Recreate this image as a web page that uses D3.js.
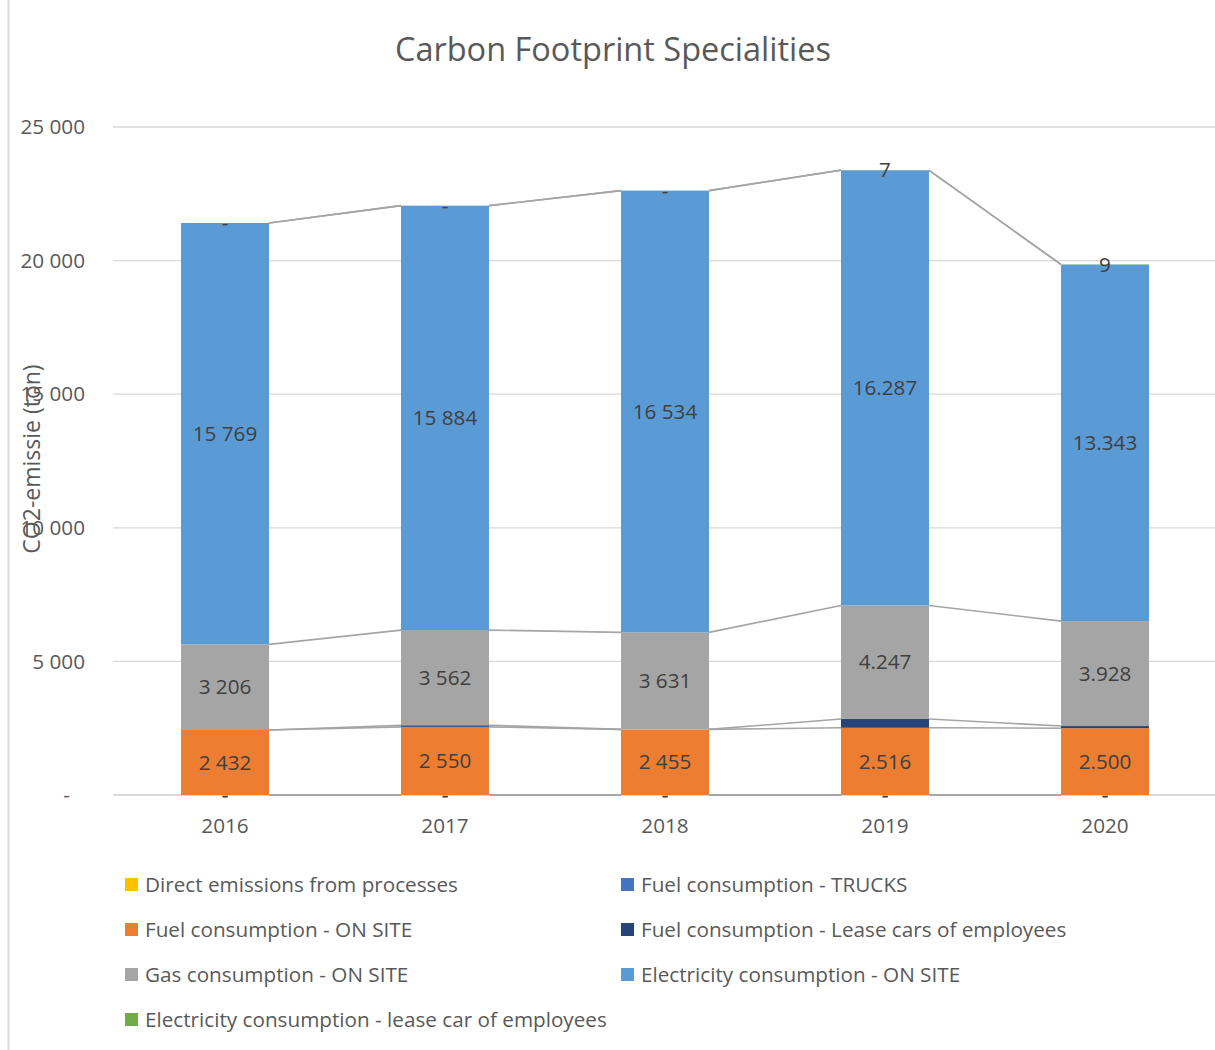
<!DOCTYPE html>
<html>
<head>
<meta charset="utf-8">
<script src="https://cdn.jsdelivr.net/npm/d3@7"></script>
<style>
	body { margin: 0; background: #fff; }
	svg text { font-family: "Open Sans", sans-serif; }
</style>
</head>
<body>
<svg id="chart"></svg>
<script>
const width = 1215, height = 1050;

// chart data
const years = ['2016', '2017', '2018', '2019', '2020'];
const seriesNames = [
	'Direct emissions from processes',
	'Fuel consumption - TRUCKS',
	'Fuel consumption - ON SITE',
	'Fuel consumption - Lease cars of employees',
	'Gas consumption - ON SITE',
	'Electricity consumption - ON SITE',
	'Electricity consumption - lease car of employees'
];
const directEmissions = [0, 0, 0, 0, 0];
const fuelTrucks = [0, 0, 0, 0, 0];
const fuelOnSite = [2432, 2550, 2455, 2516, 2500];
const fuelLeaseCars = [0, 60, 0, 330, 80];
const gasOnSite = [3206, 3562, 3631, 4247, 3928];
const elecOnSite = [15769, 15884, 16534, 16287, 13343];
const elecLeaseCar = [0, 0, 0, 7, 9];
// thousands separator used in the labels of each year
const labelSeparators = [' ', ' ', ' ', '.', '.'];
const yTicks = [0, 5000, 10000, 15000, 20000, 25000];

const seriesValues = [directEmissions, fuelTrucks, fuelOnSite, fuelLeaseCars, gasOnSite, elecOnSite, elecLeaseCar];
const seriesColors = ['#ffc000', '#4472c4', '#ed7d31', '#264478', '#a5a5a5', '#5b9bd5', '#70ad47'];
const seriesLabelled = [true, true, true, false, true, true, true];

const config = {
	text: '#595959',
	label: '#404040',
	grid: '#d9d9d9',
	seriesLine: '#a5a5a5',
	fontSize: '20.7px'
};

function formatLabel(value, i) {
	if (value === 0) return '-';
	return String(value).replace(/\B(?=(\d{3})+(?!\d))/g, labelSeparators[i]);
}

const svg = d3.select('#chart').attr('width', width).attr('height', height);

// chart border
svg.append('line')
	.attr('x1', 8.5).attr('x2', 8.5).attr('y1', 0).attr('y2', height)
	.attr('stroke', config.grid).attr('stroke-width', 2);

const x = d3.scaleBand().domain(years).range([115, 1215]).paddingInner(0.6).paddingOuter(0.3);
const y = d3.scaleLinear().domain([0, 25000]).range([795, 127]);

// gridlines
svg.append('g')
	.selectAll('line')
	.data(yTicks)
	.enter()
	.append('line')
	.attr('x1', 113).attr('x2', 1215)
	.attr('y1', d => y(d)).attr('y2', d => y(d))
	.attr('stroke', config.grid)
	.attr('stroke-width', d => d === 0 ? 2 : 1.3);

// y axis labels
const yAxis = d3.axisLeft(y)
	.tickValues(yTicks)
	.tickSize(0)
	.tickPadding(0)
	.tickFormat(d => d === 0 ? '-' : formatLabel(d, 0));
const yAxisGroup = svg.append('g').attr('transform', 'translate(85, 0)').call(yAxis);
yAxisGroup.select('.domain').remove();
yAxisGroup.selectAll('.tick text')
	.attr('fill', config.text)
	.style('font-size', config.fontSize);
yAxisGroup.selectAll('.tick').filter(d => d === 0).select('text').attr('dx', -15);

// x axis labels
const xAxis = d3.axisBottom(x).tickSize(0).tickPadding(23);
const xAxisGroup = svg.append('g').attr('transform', 'translate(0, 795)').call(xAxis);
xAxisGroup.select('.domain').remove();
xAxisGroup.selectAll('.tick text')
	.attr('fill', config.text)
	.style('font-size', config.fontSize);

// stacked data
const stackRows = years.map((year, i) => {
	const row = { year };
	seriesNames.forEach((name, s) => row[name] = seriesValues[s][i]);
	return row;
});
const stacked = d3.stack().keys(seriesNames)(stackRows);

const barsGroup = svg.append('g');
stacked.forEach((layer, s) => {
	barsGroup.append('g')
		.selectAll('rect')
		.data(layer)
		.enter()
		.append('rect')
		.attr('x', d => x(d.data.year))
		.attr('y', d => y(d[1]))
		.attr('width', x.bandwidth())
		.attr('height', d => y(d[0]) - y(d[1]))
		.attr('fill', seriesColors[s]);
});

// series lines between the bars
const linesGroup = svg.append('g');
stacked.forEach(layer => {
	linesGroup.selectAll(null)
		.data(layer.slice(0, -1))
		.enter()
		.append('line')
		.attr('x1', d => x(d.data.year) + x.bandwidth())
		.attr('y1', d => y(d[1]))
		.attr('x2', (d, i) => x(layer[i + 1].data.year))
		.attr('y2', (d, i) => y(layer[i + 1][1]))
		.attr('stroke', config.seriesLine)
		.attr('stroke-width', 1.6);
});

// data labels
const labelsGroup = svg.append('g');
stacked.forEach((layer, s) => {
	if (!seriesLabelled[s]) return;
	labelsGroup.append('g')
		.selectAll('text')
		.data(layer)
		.enter()
		.append('text')
		.attr('x', d => x(d.data.year) + x.bandwidth() / 2)
		.attr('y', d => y((d[0] + d[1]) / 2))
		.attr('dy', '0.35em')
		.attr('text-anchor', 'middle')
		.attr('fill', config.label)
		.style('font-size', config.fontSize)
		.text((d, i) => formatLabel(d[1] - d[0], i));
});

// title
svg.append('text')
	.attr('x', 613).attr('y', 61)
	.attr('text-anchor', 'middle')
	.attr('fill', config.text)
	.style('font-size', '32.5px')
	.text('Carbon Footprint Specialities');

// y axis title
svg.append('text')
	.attr('transform', 'translate(40, 459) rotate(-90)')
	.attr('text-anchor', 'middle')
	.attr('fill', config.text)
	.style('font-size', '23px')
	.text('CO2-emissie (ton)');

// legend
const legend = svg.append('g')
	.selectAll('g')
	.data(seriesNames)
	.enter()
	.append('g')
	.attr('transform', (d, i) => `translate(${i % 2 === 0 ? 125 : 621}, ${885 + Math.floor(i / 2) * 45})`);
legend.append('rect')
	.attr('x', 0).attr('y', -7)
	.attr('width', 13).attr('height', 13)
	.attr('fill', (d, i) => seriesColors[i]);
legend.append('text')
	.attr('x', 20).attr('y', 0)
	.attr('dy', '0.35em')
	.attr('fill', config.text)
	.style('font-size', config.fontSize)
	.text(d => d);
</script>
</body>
</html>
